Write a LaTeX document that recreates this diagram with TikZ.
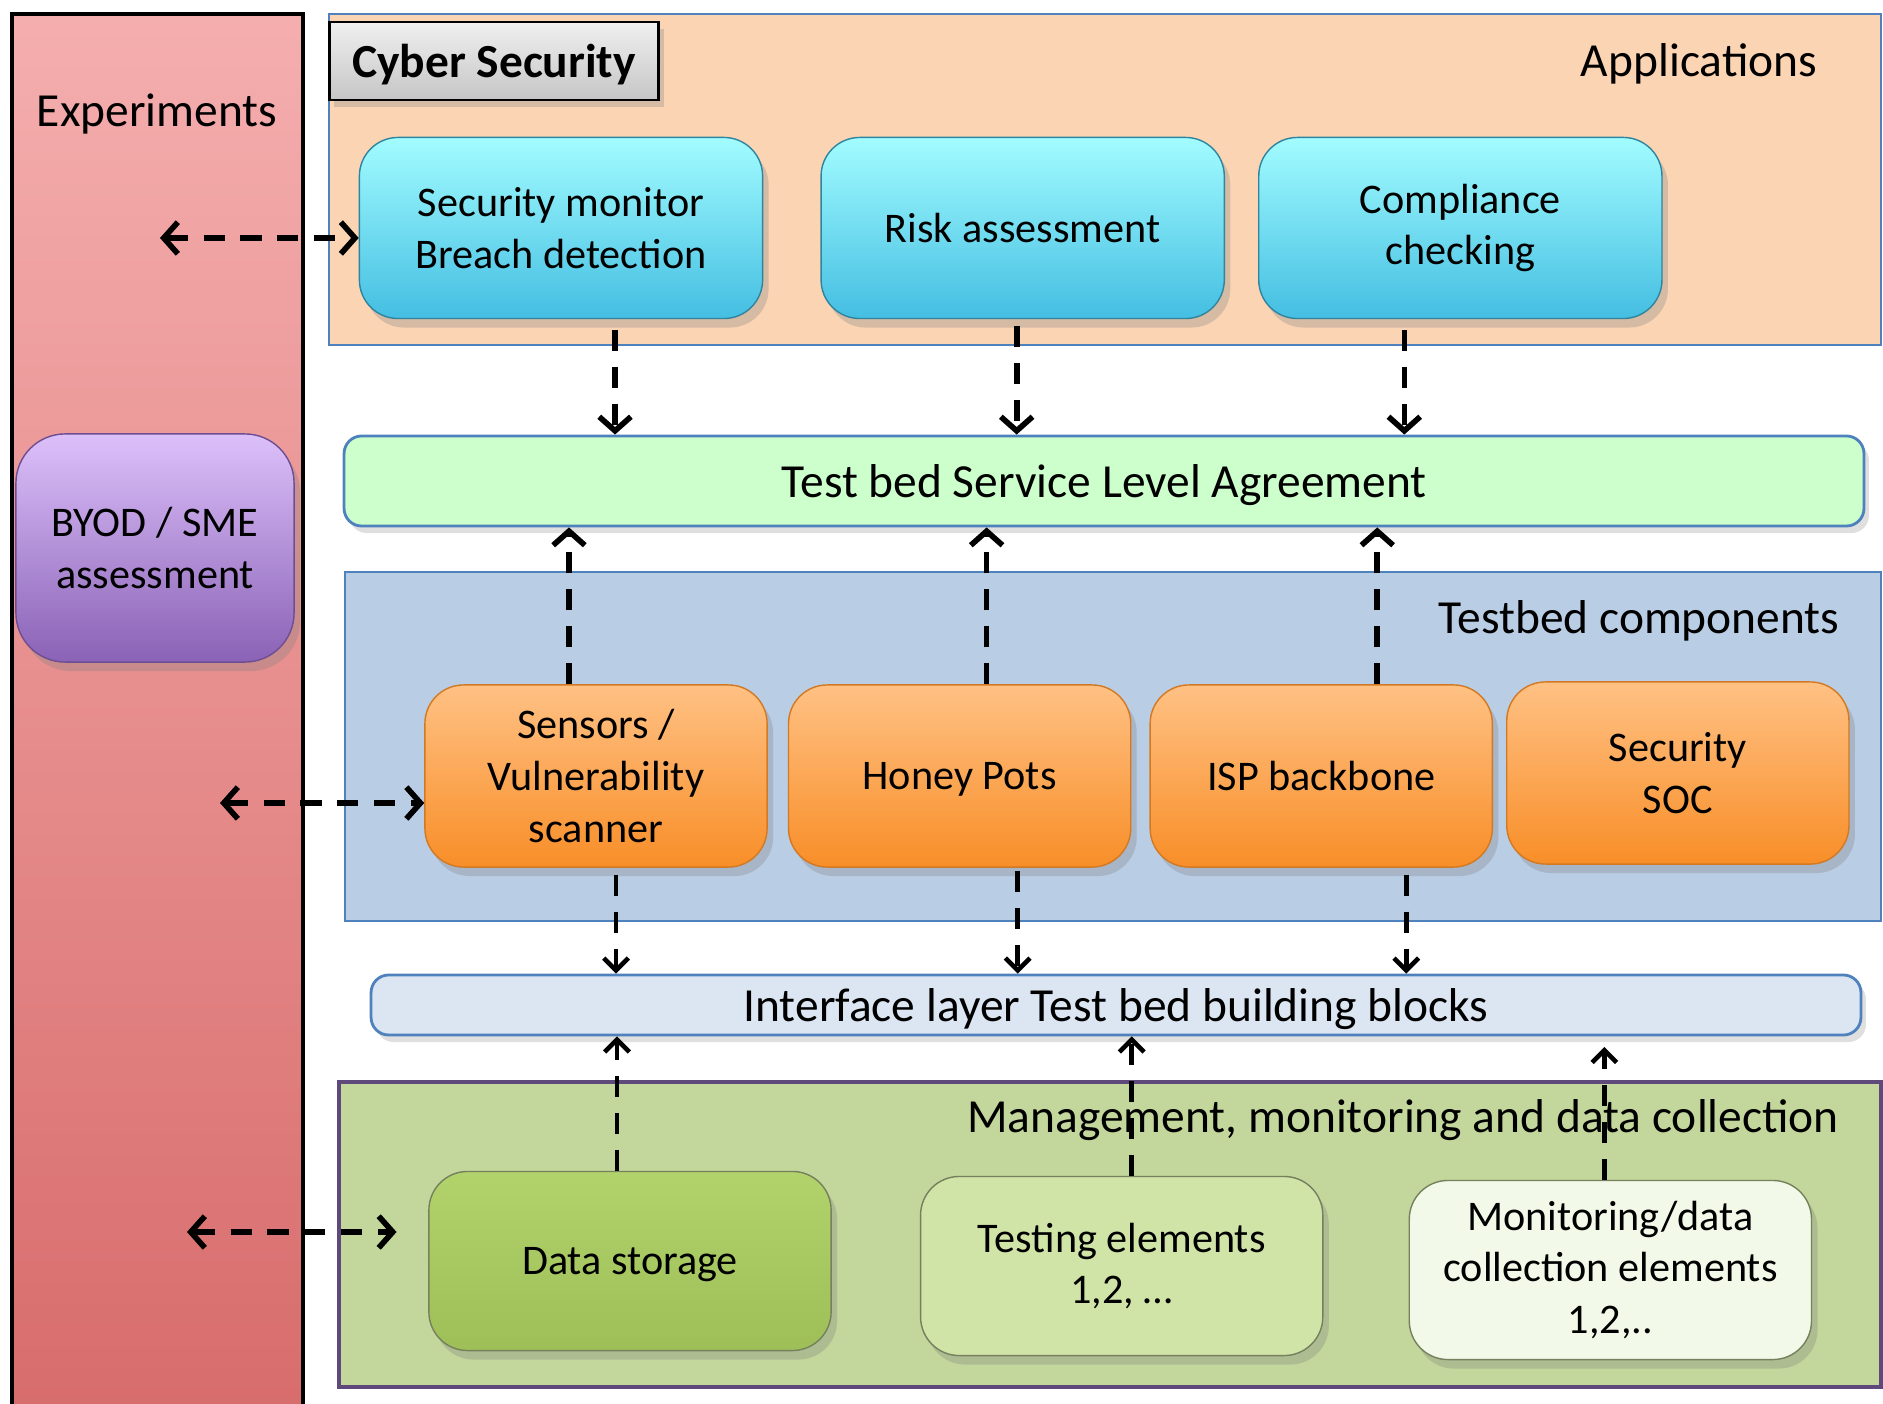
\documentclass[tikz,border=0pt]{standalone}
\usepackage{fontspec}
\setmainfont{Carlito}
\usetikzlibrary{positioning,arrows.meta,shadows}

\definecolor{expTop}{HTML}{F5AEAE}
\definecolor{expBot}{HTML}{D86C6C}
\definecolor{byodTop}{HTML}{DCC0FA}
\definecolor{byodBot}{HTML}{8A62B6}
\definecolor{appFill}{HTML}{FBD4B4}
\definecolor{appTop}{HTML}{A2FCFF}
\definecolor{appBot}{HTML}{44BEE2}
\definecolor{slaFill}{HTML}{CCFFCC}
\definecolor{compFill}{HTML}{B9CDE5}
\definecolor{compTop}{HTML}{FFC184}
\definecolor{compBot}{HTML}{F88E28}
\definecolor{ifFill}{HTML}{DCE6F2}
\definecolor{mgmtFill}{HTML}{C3D69B}
\definecolor{mgmtLine}{HTML}{5F497A}
\definecolor{barLine}{HTML}{4F81BD}
\definecolor{dataTop}{HTML}{B2D26C}
\definecolor{dataBot}{HTML}{9EBF58}
\definecolor{testFill}{HTML}{D1E4A8}
\definecolor{monFill}{HTML}{F3F9E8}

\begin{document}
\begin{tikzpicture}[x=0.01cm, y=-0.01cm,
    font=\fontsize{12}{14.7}\selectfont,
    title/.style={font=\fontsize{13.5}{16}\selectfont, text depth=0pt},
    box/.style={rounded corners=11pt, align=center, inner sep=2pt,
      drop shadow={opacity=0.3, shadow xshift=0.6mm, shadow yshift=-0.9mm}},
    app/.style={box, draw=appBot!70!black, top color=appTop, bottom color=appBot,
      minimum width=4.03cm, minimum height=1.81cm},
    comp/.style={box, draw=compBot!85!black, top color=compTop, bottom color=compBot,
      minimum width=3.42cm, minimum height=1.82cm},
    store/.style={box, draw=mgmtFill!60!black, minimum width=4.02cm, minimum height=1.79cm},
    bar/.style={rounded corners=5pt, draw=barLine, thick, align=center,
      drop shadow={opacity=0.25, shadow xshift=0.5mm, shadow yshift=-0.7mm}},
    link/.style={-{Straight Barb[length=4pt,width=9pt]}, line width=1.6pt,
      dash pattern=on 6pt off 4.5pt},
    both/.style={link, {Straight Barb[length=4pt,width=9pt]}-{Straight Barb[length=4pt,width=9pt]}},
    thinlink/.style={-{Straight Barb[length=3.5pt,width=7pt]}, line width=1.3pt,
      dash pattern=on 6pt off 4.5pt}
  ]
  \useasboundingbox (0,0) rectangle (1883,1404);
  \clip (0,0) rectangle (1883,1404);

  % layers
  \draw[line width=1pt, top color=expTop, bottom color=expBot] (12,14) rectangle (303,1420);
  \draw[barLine, fill=appFill] (329,14) rectangle (1881,345);
  \draw[barLine, fill=compFill] (345,572) rectangle (1881,921);
  \draw[mgmtLine, line width=1.4pt, fill=mgmtFill] (339,1082) rectangle (1881,1387);

  \node[title] (exptitle) at (157,110) {Experiments};
  \node[title] (apptitle) at (1699,60) {Applications};
  \node[title] (comptitle) at (1639,617) {Testbed components};
  \node[title] (mgmttitle) at (1403,1116) {Management, monitoring and data collection};

  \node[box, rounded corners=14pt, draw=byodBot!80!black, top color=byodTop, bottom color=byodBot,
    minimum width=2.78cm, minimum height=2.28cm] (byod) at (155,548) {BYOD / SME\\assessment};
  \node[draw, line width=0.8pt, top color=gray!12, bottom color=gray!45, minimum width=3.29cm,
    minimum height=0.78cm, font=\fontsize{13.5}{16}\bfseries, text depth=0pt,
    drop shadow={opacity=0.3, shadow xshift=0.5mm, shadow yshift=-0.7mm}] (cyber) at (494,61) {Cyber Security};

  % applications
  \node[app] (secmon) at (561,228) {Security monitor\\Breach detection};
  \node[app, right=0.57cm of secmon] (risk) {Risk assessment};
  \node[app, right=0.33cm of risk] (compl) {Compliance\\checking};

  \node[bar, fill=slaFill, minimum width=15.19cm, minimum height=0.9cm, title] (sla) at (1104,481)
    {Test bed Service Level Agreement};

  % testbed components
  \node[comp] (sensors) at (596,776) {Sensors /\\Vulnerability\\scanner};
  \node[comp, right=0.2cm of sensors, text depth=0pt] (honey) {Honey Pots};
  \node[comp, right=0.18cm of honey, text depth=0pt] (isp) {ISP backbone};
  \node[comp, right=0.13cm of isp, yshift=0.03cm] (soc) {Security\\SOC};

  \node[bar, fill=ifFill, minimum width=14.89cm, minimum height=0.6cm, title] (iface) at (1116,1005)
    {Interface layer Test bed building blocks};

  % management
  \node[store, top color=dataTop, bottom color=dataBot, text depth=0pt] (data) at (630,1261) {Data storage};
  \node[store, fill=testFill, right=0.88cm of data, yshift=-0.05cm] (testing) {Testing elements\\1,2, \dots};
  \node[store, fill=monFill, right=0.85cm of testing, yshift=-0.04cm] (monit) {Monitoring/data\\collection elements\\1,2,..};

  % connectors
  \coordinate (expA) at (160,238);
  \coordinate (expB) at (220,803);
  \coordinate (expC) at (187,1232);
  \draw[both] (expA) -- (expA -| secmon.west);
  \draw[both] (expB) -- (expB -| sensors.west);
  \draw[both, shorten >=9pt] (expC) -- (expC -| data.west);

  \draw[link, shorten <=3pt] ([xshift=0.54cm]secmon.south) -- ([xshift=0.54cm]secmon.south |- sla.north);
  \draw[link, shorten <=2pt] ([xshift=-0.06cm]risk.south) -- ([xshift=-0.06cm]risk.south |- sla.north);
  \draw[link, shorten <=3pt] ([xshift=-0.56cm]compl.south) -- ([xshift=-0.56cm]compl.south |- sla.north);

  \draw[link] ([xshift=-0.27cm]sensors.north) -- ([xshift=-0.27cm]sensors.north |- sla.south);
  \draw[link] ([xshift=0.27cm]honey.north) -- ([xshift=0.27cm]honey.north |- sla.south);
  \draw[link] ([xshift=0.56cm]isp.north) -- ([xshift=0.56cm]isp.north |- sla.south);

  \draw[thinlink, shorten <=2pt] ([xshift=0.2cm]sensors.south) -- ([xshift=0.2cm]sensors.south |- iface.north);
  \draw[thinlink, shorten <=1pt] ([xshift=0.58cm]honey.south) -- ([xshift=0.58cm]honey.south |- iface.north);
  \draw[thinlink, shorten <=2pt] ([xshift=0.85cm]isp.south) -- ([xshift=0.85cm]isp.south |- iface.north);

  \draw[thinlink] ([xshift=-0.13cm]data.north) -- ([xshift=-0.13cm]data.north |- iface.south);
  \draw[thinlink] ([xshift=0.1cm]testing.north) -- ([xshift=0.1cm]testing.north |- iface.south);
  \draw[thinlink, shorten >=3pt] ([xshift=-0.06cm]monit.north) -- ([xshift=-0.06cm]monit.north |- iface.south);
\end{tikzpicture}
\end{document}
